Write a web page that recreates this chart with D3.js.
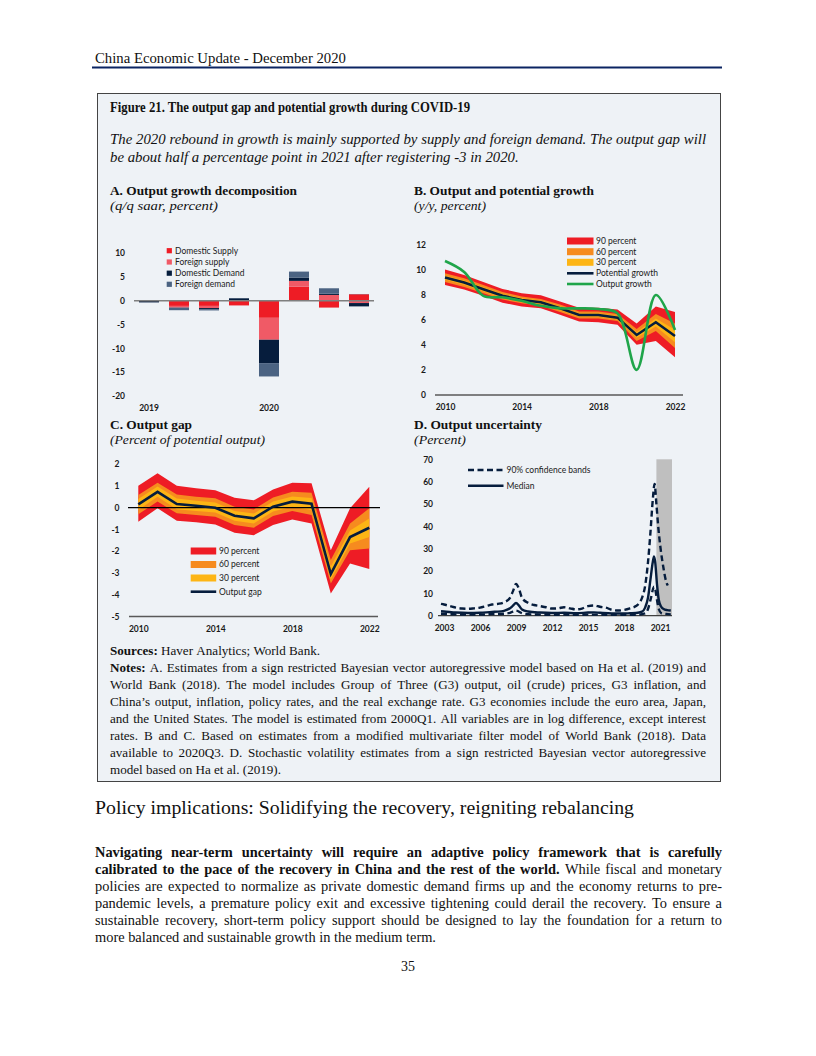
<!DOCTYPE html>
<html>
<head>
<meta charset="utf-8">
<script src="https://cdn.jsdelivr.net/npm/d3@7"></script>
<style>
  body { margin: 0; background: #fff; }
</style>
</head>
<body>
<div id="app"></div>
<script>
// ---------- data ----------
// A. Output growth decomposition (q/q saar, percent)
const quarters = ["2019Q1", "2019Q2", "2019Q3", "2019Q4", "2020Q1", "2020Q2", "2020Q3", "2020Q4"];
const domesticSupply = [0.1, -1.1, -1.1, -1.0, -3.6, 2.95, -1.45, 1.35];
const foreignSupply  = [0, -0.35, -0.45, 0, -4.6, 1.2, 1.2, -0.5];
const domesticDemand = [-0.35, -0.05, -0.3, 0.5, -4.9, 0.7, 0.25, -0.7];
const foreignDemand  = [-0.05, -0.5, -0.2, 0.05, -2.8, 1.25, 1.15, 0.05];
const aTicks = [10, 5, 0, -5, -10, -15, -20];

// B. Output and potential growth (y/y, percent)
const years = [2010, 2011, 2012, 2013, 2014, 2015, 2016, 2017, 2018, 2019, 2020, 2021, 2022];
const potentialGrowth = [9.35, 8.95, 8.42, 7.9, 7.57, 7.38, 6.9, 6.37, 6.37, 6.16, 4.78, 5.79, 4.7];
const outputGrowth    = [10.67, 9.8, 7.9, 7.78, 7.5, 7.1, 6.9, 6.9, 6.85, 6.5, 2.0, 7.96, 5.18];
const b90Hi = [10.0, 9.55, 9.0, 8.45, 8.1, 7.95, 7.45, 6.95, 6.95, 6.8, 5.7, 7.05, 6.6];
const b90Lo = [8.75, 8.4, 7.9, 7.35, 7.05, 6.9, 6.4, 5.85, 5.8, 5.6, 4.0, 4.3, 3.0];
const b60Hi = [9.7, 9.3, 8.75, 8.2, 7.85, 7.65, 7.2, 6.65, 6.65, 6.45, 5.25, 6.45, 5.7];
const b60Lo = [9.0, 8.6, 8.1, 7.6, 7.3, 7.1, 6.6, 6.1, 6.1, 5.9, 4.3, 5.1, 3.75];
const b30Hi = [9.5, 9.12, 8.58, 8.05, 7.7, 7.52, 7.05, 6.5, 6.5, 6.3, 5.0, 6.1, 5.2];
const b30Lo = [9.2, 8.78, 8.26, 7.75, 7.44, 7.24, 6.75, 6.24, 6.24, 6.02, 4.55, 5.45, 4.2];
const bTicksY = [0, 2, 4, 6, 8, 10, 12];
const yearTicks = [2010, 2014, 2018, 2022];

// C. Output gap (percent of potential output)
const outputGap = [0.15, 0.73, 0.17, 0.09, 0.0, -0.37, -0.49, 0.05, 0.28, 0.18, -3.05, -1.35, -0.92];
const c90Hi = [1.01, 1.58, 1.01, 0.89, 0.8, 0.46, 0.34, 0.84, 1.15, 1.12, -1.95, -0.03, 0.96];
const c90Lo = [-0.64, -0.03, -0.6, -0.67, -0.77, -1.15, -1.26, -0.8, -0.54, -0.72, -3.94, -2.56, -2.82];
const c60Hi = [0.58, 1.15, 0.61, 0.5, 0.43, 0.05, -0.08, 0.47, 0.73, 0.69, -2.4, -0.72, -0.03];
const c60Lo = [-0.3, 0.28, -0.26, -0.34, -0.41, -0.8, -0.92, -0.38, -0.15, -0.34, -3.48, -1.95, -1.87];
const c30Hi = [0.4, 0.97, 0.42, 0.32, 0.24, -0.15, -0.27, 0.28, 0.52, 0.45, -2.7, -1.05, -0.5];
const c30Lo = [-0.1, 0.5, -0.07, -0.15, -0.22, -0.6, -0.72, -0.17, 0.05, -0.1, -3.3, -1.65, -1.35];
const cTicksY = [2, 1, 0, -1, -2, -3, -4, -5];

// D. Output uncertainty (percent)
const dTimeUp = [2002.75, 2003, 2003.5, 2004, 2004.5, 2005, 2005.5, 2006, 2006.5, 2007, 2007.5, 2008, 2008.5, 2008.75, 2009, 2009.25, 2009.5, 2010, 2010.5, 2011, 2011.5, 2012, 2012.5, 2013, 2013.5, 2014, 2014.5, 2015, 2015.5, 2016, 2016.5, 2017, 2017.5, 2018, 2018.5, 2019, 2019.25, 2019.5, 2019.75, 2020, 2020.2, 2020.4, 2020.55, 2020.7, 2020.85, 2021.05, 2021.3, 2021.5, 2021.65];
const dUpper   = [5.3, 5.0, 4.3, 3.6, 3.2, 3.1, 3.3, 3.6, 4.3, 5.0, 5.3, 6.0, 8.0, 11.0, 14.2, 12.0, 8.0, 5.8, 4.8, 4.3, 3.8, 3.2, 3.3, 3.8, 3.3, 2.8, 3.2, 4.3, 4.6, 4.0, 3.6, 2.6, 2.3, 2.6, 3.3, 4.3, 5.5, 8.0, 13.0, 24.0, 37.0, 52.0, 59.0, 50.0, 40.0, 30.0, 21.0, 15.5, 13.5];
const dTimeMed = [2002.75, 2003, 2004, 2005, 2006, 2007, 2007.5, 2008, 2008.5, 2008.75, 2009, 2009.25, 2009.5, 2010, 2011, 2012, 2013, 2014, 2015, 2015.5, 2016, 2017, 2018, 2018.5, 2019, 2019.5, 2019.75, 2020, 2020.2, 2020.4, 2020.5, 2020.6, 2020.75, 2020.9, 2021.1, 2021.3, 2021.6, 2021.9];
const dMedian  = [2.0, 1.9, 1.4, 1.2, 1.3, 1.7, 1.8, 2.2, 3.3, 4.5, 5.7, 4.5, 2.8, 1.9, 1.4, 1.2, 1.3, 1.1, 1.4, 1.5, 1.3, 1.0, 1.0, 1.1, 1.2, 1.8, 3.5, 8.0, 16.0, 24.0, 26.5, 24.0, 14.0, 7.0, 4.0, 3.0, 2.5, 2.3];
const dTimeLo = [2002.75, 2003, 2004, 2005, 2006, 2007, 2008, 2008.5, 2009, 2009.5, 2010, 2011, 2012, 2013, 2014, 2015, 2016, 2017, 2018, 2019, 2019.75, 2020, 2020.25, 2020.5, 2020.6, 2020.75, 2020.9, 2021.1, 2021.5, 2021.9];
const dLower   = [0.9, 0.8, 0.6, 0.5, 0.5, 0.7, 0.9, 1.3, 2.3, 1.1, 0.7, 0.5, 0.4, 0.5, 0.4, 0.5, 0.5, 0.4, 0.4, 0.4, 1.0, 3.0, 8.0, 13.0, 12.0, 7.0, 3.0, 1.2, 0.8, 0.6];
const dTicksX = [2003, 2006, 2009, 2012, 2015, 2018, 2021];
const dTicksY = [0, 10, 20, 30, 40, 50, 60, 70];
const dShadeFrom = 2020.7;
const dShadeTo = 2022;

// ---------- colours ----------
const red = "#ee1c25", pink = "#f05a66", navy = "#061d3d", slate = "#4b6382";
const orange = "#f68b1f", gold = "#fdb515", green = "#1fa54a";
const chartFont = "Lato, 'Open Sans', sans-serif";
const serif = "'Liberation Serif', 'Times New Roman', serif";
const plain = d => String(d); // hyphen minus like the source

const svg = d3.select("#app")
  .append("svg")
    .attr("width", 816)
    .attr("height", 1056);

svg.append("rect").attr("width", 816).attr("height", 1056).attr("fill", "#fff");

// ---------- page text ----------
const page = svg.append("g").attr("font-family", serif).attr("fill", "#111");

function oneLine(g, x, y, str, size, opts = {}) {
  const t = g.append("text")
    .attr("x", x).attr("y", y)
    .attr("font-size", size)
    .attr("font-weight", opts.bold ? "bold" : "normal")
    .attr("font-style", opts.italic ? "italic" : "normal")
    .text(str);
  if (opts.width) t.attr("textLength", opts.width).attr("lengthAdjust", "spacingAndGlyphs");
  return t;
}

// words laid out one by one so the line can be justified
function wordLine(g, x0, x1, y, parts, size, justify, italic) {
  const words = [];
  parts.forEach(p => p.t.split(" ").filter(w => w.length).forEach(w => words.push({ w: w, b: p.b })));
  const nodes = words.map(d => g.append("text")
    .attr("y", y)
    .attr("font-size", size)
    .attr("font-weight", d.b ? "bold" : "normal")
    .attr("font-style", italic ? "italic" : "normal")
    .text(d.w));
  const widths = nodes.map(n => n.node().getComputedTextLength());
  const total = d3.sum(widths);
  const gap = justify && words.length > 1 ? (x1 - x0 - total) / (words.length - 1) : size * 0.25;
  let x = x0;
  nodes.forEach((n, i) => { n.attr("x", x); x += widths[i] + gap; });
}

oneLine(page, 95, 63, "China Economic Update - December 2020", 15, { width: 251 });
page.append("line")
  .attr("x1", 92).attr("x2", 722).attr("y1", 67.5).attr("y2", 67.5)
  .attr("stroke", "#0b2462").attr("stroke-width", 2.2);

// figure box
svg.append("rect")
  .attr("x", 97.5).attr("y", 93.5).attr("width", 623).attr("height", 688)
  .attr("fill", "#eef2f6").attr("stroke", "#444").attr("stroke-width", 1);

const fig = svg.append("g").attr("font-family", serif).attr("fill", "#111");
oneLine(fig, 110, 112, "Figure 21. The output gap and potential growth during COVID-19", 15, { bold: true, width: 360 });
wordLine(fig, 110, 706, 144, [{ t: "The 2020 rebound in growth is mainly supported by supply and foreign demand. The output gap will" }], 14.8, true, true);
wordLine(fig, 110, 706, 162, [{ t: "be about half a percentage point in 2021 after registering -3 in 2020." }], 14.8, false, true);

oneLine(fig, 110, 195, "A. Output growth decomposition", 13.5, { bold: true, width: 187 });
oneLine(fig, 110, 210, "(q/q saar, percent)", 13, { italic: true, width: 108 });
oneLine(fig, 414, 195, "B. Output and potential growth", 13.5, { bold: true, width: 180 });
oneLine(fig, 414, 210, "(y/y, percent)", 13, { italic: true, width: 72 });
oneLine(fig, 110, 429, "C. Output gap", 13.5, { bold: true, width: 82 });
oneLine(fig, 110, 444, "(Percent of potential output)", 13, { italic: true, width: 155 });
oneLine(fig, 414, 429, "D. Output uncertainty", 13.5, { bold: true, width: 128 });
oneLine(fig, 414, 444, "(Percent)", 13, { italic: true, width: 52 });

// sources and notes
wordLine(fig, 110, 706, 655, [{ t: "Sources:", b: true }, { t: "Haver Analytics; World Bank." }], 13.1, false);
const notes = [
  [{ t: "Notes:", b: true }, { t: "A.  Estimates from a sign restricted Bayesian vector autoregressive model based on Ha et al. (2019) and" }],
  [{ t: "World Bank (2018). The model includes Group of Three (G3) output, oil (crude) prices, G3 inflation, and" }],
  [{ t: "China\u2019s output, inflation, policy rates, and the real exchange rate. G3 economies include the euro area, Japan," }],
  [{ t: "and the United States. The model is estimated from 2000Q1. All variables are in log difference, except interest" }],
  [{ t: "rates. B and C. Based on estimates from a modified multivariate filter model of World Bank (2018). Data" }],
  [{ t: "available to 2020Q3. D. Stochastic volatility estimates from a sign restricted Bayesian vector autoregressive" }],
  [{ t: "model based on Ha et al. (2019)." }]
];
notes.forEach((ln, i) => wordLine(fig, 110, 706, 672 + i * 17, ln, 13.1, i < notes.length - 1));

// section heading and paragraph
oneLine(page, 95, 814, "Policy implications: Solidifying the recovery, reigniting rebalancing", 19.5, { width: 539 });
const para = [
  [{ t: "Navigating near-term uncertainty will require an adaptive policy framework that is carefully", b: true }],
  [{ t: "calibrated to the pace of the recovery in China and the rest of the world.", b: true }, { t: "While fiscal and monetary" }],
  [{ t: "policies are expected to normalize as private domestic demand firms up and the economy returns to pre-" }],
  [{ t: "pandemic levels, a premature policy exit and excessive tightening could derail the recovery. To ensure a" }],
  [{ t: "sustainable recovery, short-term policy support should be designed to lay the foundation for a return to" }],
  [{ t: "more balanced and sustainable growth in the medium term." }]
];
para.forEach((ln, i) => wordLine(page, 95, 722, 857 + i * 17, ln, 14.4, i < para.length - 1));
page.append("text").attr("x", 408).attr("y", 971).attr("text-anchor", "middle")
  .attr("font-size", 14).text("35");

// ---------- chart helpers ----------
function styleTicks(g, size) {
  g.select(".domain").remove();
  g.selectAll("text")
    .attr("font-family", chartFont)
    .attr("font-weight", "bold")
    .attr("font-size", size || 8.5)
    .attr("fill", "#1a1a1a");
}

function legendText(g, x, y, str) {
  g.append("text")
    .attr("x", x).attr("y", y).attr("dy", "0.35em")
    .attr("font-family", chartFont).attr("font-size", 8.5).attr("fill", "#1a1a1a")
    .text(str);
}

// ---------- A. stacked bars ----------
{
  const g = svg.append("g");
  const keys = ["domesticSupply", "foreignSupply", "domesticDemand", "foreignDemand"];
  const colorA = d3.scaleOrdinal().domain(keys).range([red, pink, navy, slate]);
  const rows = quarters.map((q, i) => ({
    q: q,
    domesticSupply: domesticSupply[i],
    foreignSupply: foreignSupply[i],
    domesticDemand: domesticDemand[i],
    foreignDemand: foreignDemand[i]
  }));
  const stacked = d3.stack().keys(keys).offset(d3.stackOffsetDiverging)(rows);

  const x = d3.scaleBand().domain(quarters).range([134, 374]).paddingInner(0.333).paddingOuter(0.1665);
  const y = d3.scaleLinear().domain([-20, 10]).range([396, 253]);

  g.append("g").attr("transform", "translate(128,0)")
    .call(d3.axisLeft(y).tickValues(aTicks).tickFormat(plain).tickSize(0).tickPadding(3))
    .call(styleTicks);
  g.append("g").attr("transform", "translate(0,396)")
    .call(d3.axisBottom(x).tickValues(["2019Q1", "2020Q1"]).tickFormat(d => d.slice(0, 4)).tickSize(0).tickPadding(9))
    .call(styleTicks);

  g.append("g").selectAll("g")
    .data(stacked)
    .enter().append("g")
      .attr("fill", d => colorA(d.key))
    .selectAll("rect")
    .data(d => d)
    .enter().append("rect")
      .attr("x", d => x(d.data.q))
      .attr("y", d => y(Math.max(d[0], d[1])))
      .attr("width", x.bandwidth())
      .attr("height", d => Math.abs(y(d[0]) - y(d[1])));

  g.append("line")
    .attr("x1", 134).attr("x2", 374).attr("y1", y(0)).attr("y2", y(0))
    .attr("stroke", "#7f7f7f").attr("stroke-width", 1.5);

  const labelsA = ["Domestic Supply", "Foreign supply", "Domestic Demand", "Foreign demand"];
  const rowY = [250.7, 262, 273.2, 284.3];
  keys.forEach((k, i) => {
    g.append("rect").attr("x", 166.7).attr("y", rowY[i] - 2.6).attr("width", 5.2).attr("height", 5.2).attr("fill", colorA(k));
    legendText(g, 175, rowY[i], labelsA[i]);
  });
}

// ---------- B. bands + lines ----------
{
  const g = svg.append("g");
  const x = d3.scaleLinear().domain([2010, 2022]).range([445, 675]);
  const y = d3.scaleLinear().domain([0, 12]).range([395, 244.3]);

  g.append("g").attr("transform", "translate(431,0)")
    .call(d3.axisLeft(y).tickValues(bTicksY).tickFormat(plain).tickSize(0).tickPadding(5))
    .call(styleTicks);
  g.append("g").attr("transform", "translate(0,395)")
    .call(d3.axisBottom(x).tickValues(yearTicks).tickFormat(plain).tickSize(0).tickPadding(9))
    .call(styleTicks);
  g.append("line").attr("x1", 435).attr("x2", 683).attr("y1", 395).attr("y2", 395)
    .attr("stroke", "#595959").attr("stroke-width", 1.5);

  const area = (lo, hi) => d3.area()
    .x((d, i) => x(years[i]))
    .y0((d, i) => y(lo[i]))
    .y1((d, i) => y(hi[i]))(years);
  g.append("path").attr("d", area(b90Lo, b90Hi)).attr("fill", red);
  g.append("path").attr("d", area(b60Lo, b60Hi)).attr("fill", orange);
  g.append("path").attr("d", area(b30Lo, b30Hi)).attr("fill", gold);

  const line = d3.line().x((d, i) => x(years[i])).y(d => y(d));
  g.append("path").attr("d", line(potentialGrowth))
    .attr("fill", "none").attr("stroke", navy).attr("stroke-width", 2.6);
  g.append("path").attr("d", line.curve(d3.curveCatmullRom.alpha(0.5))(outputGrowth))
    .attr("fill", "none").attr("stroke", green).attr("stroke-width", 2.6);

  const rowY = [241, 251.7, 262.3, 273.3, 284];
  const labelsB = ["90 percent", "60 percent", "30 percent", "Potential growth", "Output growth"];
  [red, orange, gold].forEach((c, i) => {
    g.append("rect").attr("x", 567).attr("y", rowY[i] - 3.5).attr("width", 26.5).attr("height", 7).attr("fill", c);
  });
  [navy, green].forEach((c, i) => {
    g.append("line").attr("x1", 567).attr("x2", 593.5).attr("y1", rowY[3 + i]).attr("y2", rowY[3 + i])
      .attr("stroke", c).attr("stroke-width", 2.6);
  });
  labelsB.forEach((s, i) => legendText(g, 596, rowY[i], s));
}

// ---------- C. output gap ----------
{
  const g = svg.append("g");
  const x = d3.scaleLinear().domain([2010, 2022]).range([138.3, 369.3]);
  const y = d3.scaleLinear().domain([-5, 2]).range([616.5, 464.2]);

  g.append("g").attr("transform", "translate(123,0)")
    .call(d3.axisLeft(y).tickValues(cTicksY).tickFormat(plain).tickSize(0).tickPadding(3.5))
    .call(styleTicks);
  g.append("g").attr("transform", "translate(0," + y(-5) + ")")
    .call(d3.axisBottom(x).tickValues(yearTicks).tickFormat(plain).tickSize(0).tickPadding(9.5))
    .call(styleTicks);
  g.append("line").attr("x1", 129).attr("x2", 378).attr("y1", y(-5)).attr("y2", y(-5))
    .attr("stroke", "#595959").attr("stroke-width", 1.5);

  const area = (lo, hi) => d3.area()
    .x((d, i) => x(years[i]))
    .y0((d, i) => y(lo[i]))
    .y1((d, i) => y(hi[i]))(years);
  g.append("path").attr("d", area(c90Lo, c90Hi)).attr("fill", red);
  g.append("path").attr("d", area(c60Lo, c60Hi)).attr("fill", orange);
  g.append("path").attr("d", area(c30Lo, c30Hi)).attr("fill", gold);

  g.append("line").attr("x1", 128).attr("x2", 380).attr("y1", y(0)).attr("y2", y(0))
    .attr("stroke", "#000").attr("stroke-width", 1.3);

  const line = d3.line().x((d, i) => x(years[i])).y(d => y(d));
  g.append("path").attr("d", line(outputGap))
    .attr("fill", "none").attr("stroke", navy).attr("stroke-width", 2.6);

  const rowY = [551, 564.5, 578, 591.7];
  const labelsC = ["90 percent", "60 percent", "30 percent", "Output gap"];
  [red, orange, gold].forEach((c, i) => {
    g.append("rect").attr("x", 190.7).attr("y", rowY[i] - 3.5).attr("width", 25.5).attr("height", 7).attr("fill", c);
  });
  g.append("line").attr("x1", 190.7).attr("x2", 216.2).attr("y1", rowY[3]).attr("y2", rowY[3])
    .attr("stroke", navy).attr("stroke-width", 2.6);
  labelsC.forEach((s, i) => legendText(g, 219, rowY[i], s));
}

// ---------- D. uncertainty ----------
{
  const g = svg.append("g");
  const x = d3.scaleLinear().domain([2002.5, 2022]).range([438, 672]);
  const y = d3.scaleLinear().domain([0, 70]).range([615.7, 459.3]);

  g.append("rect")
    .attr("x", x(dShadeFrom)).attr("y", y(70))
    .attr("width", x(dShadeTo) - x(dShadeFrom)).attr("height", y(0) - y(70))
    .attr("fill", "#bfbfbf");

  g.append("g").attr("transform", "translate(436,0)")
    .call(d3.axisLeft(y).tickValues(dTicksY).tickFormat(plain).tickSize(0).tickPadding(3))
    .call(styleTicks);
  g.append("g").attr("transform", "translate(0,615.7)")
    .call(d3.axisBottom(x).tickValues(dTicksX).tickFormat(plain).tickSize(0).tickPadding(9))
    .call(styleTicks);
  g.append("line").attr("x1", 438).attr("x2", 672).attr("y1", y(0)).attr("y2", y(0))
    .attr("stroke", "#404040").attr("stroke-width", 1.3);

  const line = t => d3.line().x((d, i) => x(t[i])).y(d => y(d)).curve(d3.curveMonotoneX);
  g.append("path").attr("d", line(dTimeUp)(dUpper))
    .attr("fill", "none").attr("stroke", navy).attr("stroke-width", 2.4).attr("stroke-dasharray", "6,3.5");
  g.append("path").attr("d", line(dTimeLo)(dLower))
    .attr("fill", "none").attr("stroke", navy).attr("stroke-width", 2.4).attr("stroke-dasharray", "6,3.5");
  g.append("path").attr("d", line(dTimeMed)(dMedian))
    .attr("fill", "none").attr("stroke", navy).attr("stroke-width", 2.4);

  g.append("line").attr("x1", 468).attr("x2", 503.5).attr("y1", 470).attr("y2", 470)
    .attr("stroke", navy).attr("stroke-width", 2.4).attr("stroke-dasharray", "6,3.5");
  g.append("line").attr("x1", 468).attr("x2", 503.5).attr("y1", 485.7).attr("y2", 485.7)
    .attr("stroke", navy).attr("stroke-width", 2.4);
  legendText(g, 506.5, 470, "90% confidence bands");
  legendText(g, 506.5, 485.7, "Median");
}
</script>
</body>
</html>
